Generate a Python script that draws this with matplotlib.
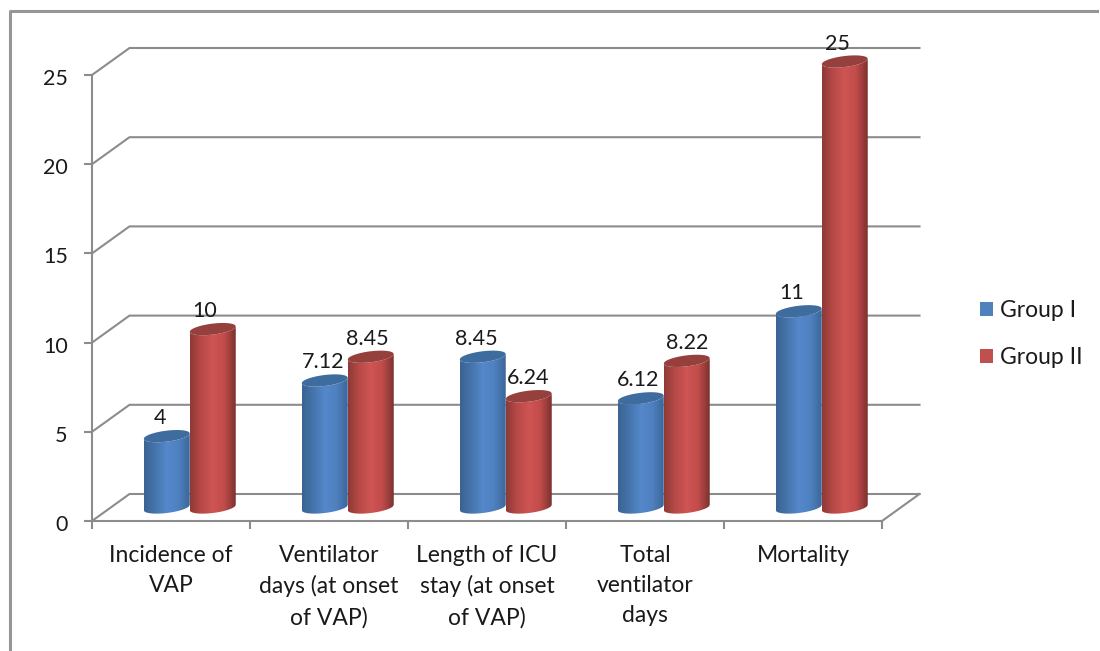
import numpy as np
import matplotlib
matplotlib.use("Agg")
import matplotlib.pyplot as plt
from matplotlib.colors import LinearSegmentedColormap
from matplotlib.lines import Line2D
from matplotlib.patches import Patch, Polygon
from matplotlib.transforms import ScaledTranslation

plt.rcParams['font.family'] = ['Lato', 'DejaVu Sans']

categories = ['Incidence of\nVAP', 'Ventilator\ndays (at onset\nof VAP)',
              'Length of ICU\nstay (at onset\nof VAP)', 'Total\nventilator\ndays', 'Mortality']
group1 = [4, 7.12, 8.45, 6.12, 11]
group2 = [10, 8.45, 6.24, 8.22, 25]
labels1 = ['4', '7.12', '8.45', '6.12', '11']
labels2 = ['10', '8.45', '6.24', '8.22', '25']
yticks = [0, 5, 10, 15, 20, 25]

GRID = '#8c8c8c'
TEXT = '#1a1a1a'

fig = plt.figure(figsize=(11, 6.51), dpi=100)
ax = fig.add_axes([92 / 1100, 130 / 651, 790 / 1100, 446 / 651])
ax.set_xlim(0, 5)
ax.set_ylim(0, 25)

# one pixel in data units
px = 5 / 790
py = 25 / 446
depth_x = 37.5 * px
depth_y = 27 * py

# outer frame, only top and left show
fig.add_artist(Line2D([10 / 1100, 10 / 1100, 1097 / 1100], [0, 640 / 651, 640 / 651],
                      color='#969696', lw=2.2))

# side and back walls
for v in yticks:
    ax.plot([0, depth_x, 5 + depth_x], [v, v + depth_y, v + depth_y],
            color=GRID, lw=1.5, clip_on=False, zorder=1)
ax.plot([5, 5 + depth_x], [0, depth_y], color=GRID, lw=1.5, clip_on=False, zorder=1)

blue_map = LinearSegmentedColormap.from_list('b', ['#3a6391', '#4675ad', '#5488cb', '#4f81c0', '#3c6698'])
red_map = LinearSegmentedColormap.from_list('r', ['#8e3a38', '#b84a47', '#cf5553', '#c04c4a', '#7c3230'])
strip = np.linspace(0, 1, 128).reshape(1, -1)


def cylinder(xc, value, cmap, top_color):
    half_w = 23 * px
    b = 5.5 * py
    s = 2.7 * py
    t = np.linspace(-1, 1, 80)
    ex = xc + half_w * t
    lower = -b * np.sqrt(1 - t ** 2) + s * t
    upper = b * np.sqrt(1 - t ** 2) + s * t
    base = depth_y / 2

    body = np.vstack([np.column_stack([ex, base + lower]),
                      np.column_stack([ex[::-1], (value + base + lower)[::-1]])])
    im = ax.imshow(strip, cmap=cmap, extent=[xc - half_w, xc + half_w, base - 2 * b, value + base + 2 * b],
                   aspect='auto', zorder=3)
    im.set_clip_path(Polygon(body, closed=True, transform=ax.transData))
    im.set_clip_box(fig.bbox)
    top = np.vstack([np.column_stack([ex, value + base + lower]),
                     np.column_stack([ex[::-1], (value + base + upper)[::-1]])])
    ax.add_patch(Polygon(top, closed=True, fc=top_color, ec='none', zorder=3, clip_on=False))


nudge1 = [-3, 2, -2, 1, -3]
nudge2 = [-4, 1, 3, 4, -3]
w = 46 * px
for i in range(len(categories)):
    xc = i + 0.5 + depth_x / 2
    cylinder(xc - w / 2, group1[i], blue_map, '#3f6c9e')
    ax.text(xc - w / 2 + (nudge1[i] - 4) * px, group1[i] + depth_y / 2 + 18 * py, labels1[i],
            ha='center', va='center', fontsize=15.5, color=TEXT, zorder=5)
    cylinder(xc + w / 2, group2[i], red_map, '#96403e')
    ax.text(xc + w / 2 + (nudge2[i] - 4) * px, group2[i] + depth_y / 2 + 18 * py, labels2[i],
            ha='center', va='center', fontsize=15.5, color=TEXT, zorder=5)

ax.set_xlim(0, 5)
ax.set_ylim(0, 25)

for side in ['top', 'right']:
    ax.spines[side].set_visible(False)
for side in ['left', 'bottom']:
    ax.spines[side].set_color(GRID)
    ax.spines[side].set_linewidth(1.5)

ax.set_yticks(yticks)
ax.set_xticks(range(6))
ax.set_xticklabels([])
ax.set_xticks(np.arange(5) + 0.5, minor=True)
ax.set_xticklabels(categories, minor=True, linespacing=1.53)
ax.tick_params(axis='x', which='major', length=5.5, width=1.5, color=GRID)
ax.tick_params(axis='x', which='minor', length=0, pad=17, labelsize=16.5, labelcolor=TEXT)
ax.tick_params(axis='y', length=5.5, width=1.5, color=GRID, pad=12, labelsize=15.5, labelcolor=TEXT)
# y labels sit a little under their ticks
for lab in ax.get_yticklabels():
    lab.set_transform(lab.get_transform() + ScaledTranslation(0, -2 / 100, fig.dpi_scale_trans))

handles = [Patch(fc='#4f81bd', ec='none', label='Group I'), Patch(fc='#c0504d', ec='none', label='Group II')]
fig.legend(handles=handles, loc='upper left', bbox_to_anchor=(959 / 1100, 1 - 279.5 / 651), frameon=False,
           fontsize=16.5, labelcolor=TEXT, handlelength=0.57, handleheight=0.57, handletextpad=0.3,
           labelspacing=1.15)

fig.savefig('out.png', dpi=100)
